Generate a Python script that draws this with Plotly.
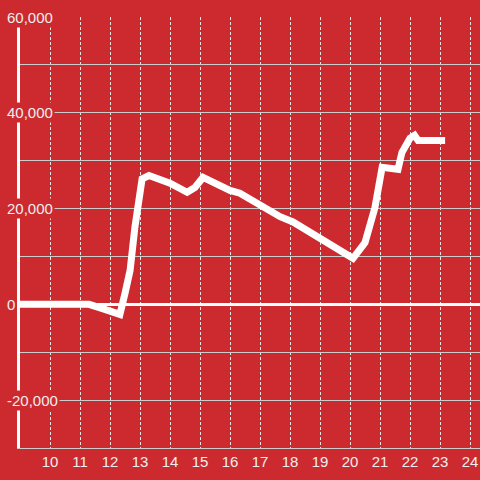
import plotly.graph_objects as go

# data
x_vals = [9.0, 11.3, 11.7, 12.0, 12.33, 12.5, 12.67, 12.83, 13.07, 13.3, 13.57, 14.0,
          14.57, 14.83, 15.1, 15.43, 15.77, 16.0, 16.33, 17.0, 17.33, 17.67, 18.1, 18.43,
          19.2, 20.0, 20.1, 20.5, 20.83, 21.07, 21.6, 21.73, 22.0, 22.15,
          22.27, 23.17]
y_vals = [0, 0, -800, -1500, -2100, 2300, 7100, 16100, 26200, 26900, 26300, 25300,
          23400, 24400, 26500, 25500, 24300, 23800, 23200, 20700, 19700, 18300, 17200, 15900,
          12800, 9700, 9600, 12900, 20200, 28600, 28200, 31700, 34700, 35300,
          34200, 34200]

x_ticks = list(range(10, 25))
y_label_vals = [-20000, 0, 20000, 40000, 60000]
y_label_text = ["-20,000", "0", "20,000", "40,000", "60,000"]

BG = "#cc2a2f"
TXT = "#eeeeee"
FONT = "Liberation Sans, Arial, sans-serif"

fig = go.Figure()
fig.add_trace(go.Scatter(x=x_vals, y=y_vals, mode="lines",
                         line=dict(color="white", width=7), hoverinfo="skip"))

for v, t in zip(y_label_vals, y_label_text):
    fig.add_annotation(x=0, xref="paper", y=v, yref="y", text=t, showarrow=False,
                       xanchor="left", yanchor="middle", xshift=-15,
                       font=dict(family=FONT, size=15, color=TXT),
                       bgcolor=BG, borderpad=1)

fig.update_layout(
    width=480, height=480, paper_bgcolor=BG, plot_bgcolor=BG,
    margin=dict(l=20, r=0, t=17, b=32), showlegend=False,
    font=dict(family=FONT, size=15, color=TXT),
    xaxis=dict(range=[9, 24.333], tickvals=x_ticks, ticktext=[str(v) for v in x_ticks],
               showgrid=True, gridcolor="#e6e6e6", gridwidth=1, griddash="3px,2px",
               showline=True, linecolor="#cccccc", linewidth=1, ticks="",
               zeroline=False, tickfont=dict(family=FONT, size=15, color=TXT)),
    yaxis=dict(range=[-30000, 60000], dtick=10000, tick0=0, showticklabels=False,
               showgrid=True, gridcolor="#cccccc", gridwidth=1,
               showline=True, linecolor="white", linewidth=3, ticks="",
               zeroline=True, zerolinecolor="white", zerolinewidth=3),
)

fig.write_html("out.html", config={"displayModeBar": False},
               post_script="document.body.style.margin='0';")
